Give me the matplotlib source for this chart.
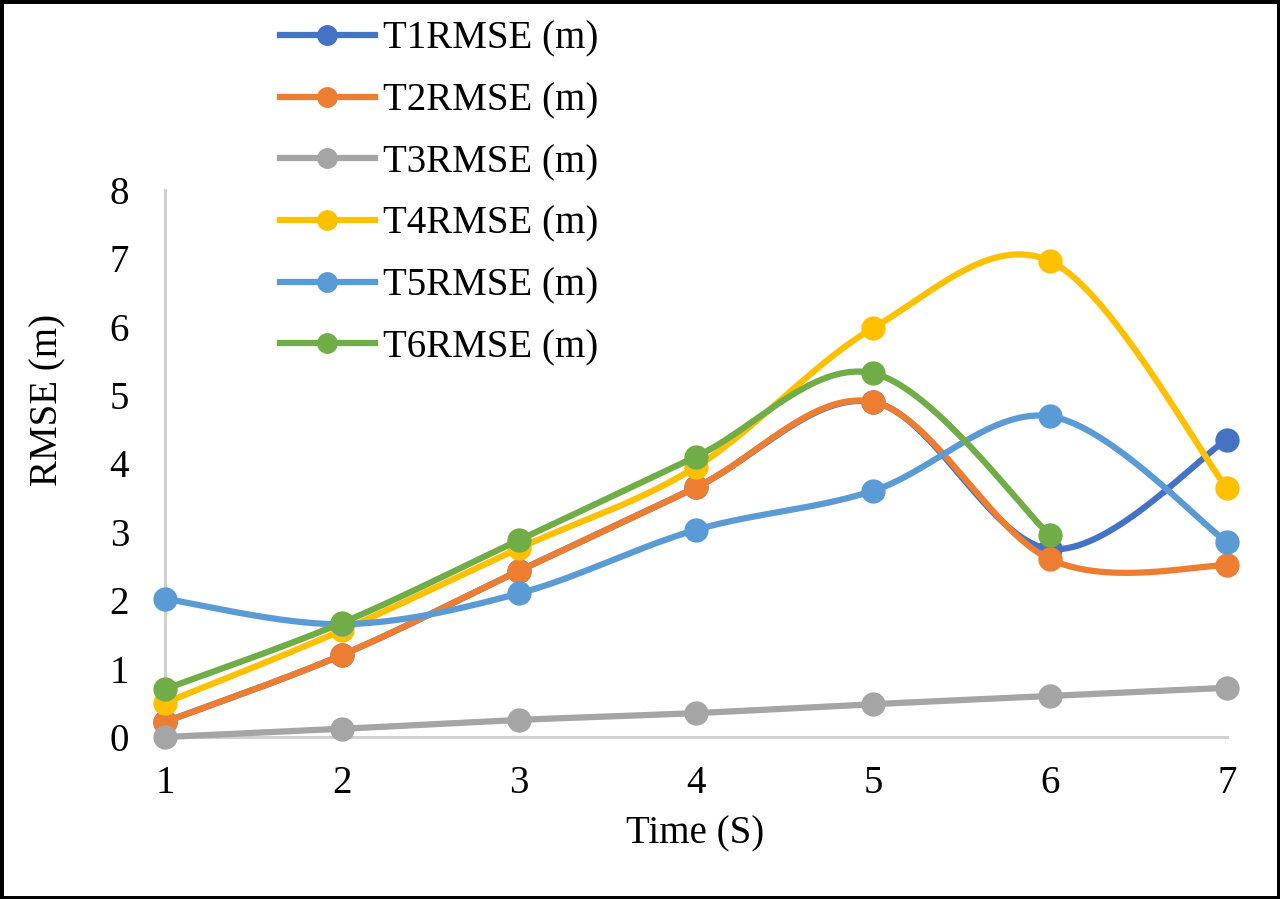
import numpy as np
import matplotlib
matplotlib.use("Agg")
import matplotlib.pyplot as plt
from matplotlib.patches import Rectangle

plt.rcParams['font.family'] = ['Liberation Serif', 'DejaVu Serif']

time = [1, 2, 3, 4, 5, 6, 7]
t1 = [0.22, 1.2, 2.43, 3.65, 4.9, 2.75, 4.35]
t2 = [0.22, 1.2, 2.43, 3.65, 4.9, 2.6, 2.51]
t3 = [0.0, 0.12, 0.25, 0.35, 0.48, 0.6, 0.72]
t4 = [0.5, 1.56, 2.76, 3.95, 5.98, 6.96, 3.64]
t5 = [2.02, 1.65, 2.1, 3.03, 3.6, 4.69, 2.85]
t6 = [0.7, 1.67, 2.88, 4.1, 5.32, 2.95]

labels = ['T1RMSE (m)', 'T2RMSE (m)', 'T3RMSE (m)', 'T4RMSE (m)', 'T5RMSE (m)', 'T6RMSE (m)']
colors = ['#4472C4', '#ED7D31', '#A5A5A5', '#FFC000', '#5B9BD5', '#70AD47']
series = [t1, t2, t3, t4, t5, t6]
yticks = [0, 1, 2, 3, 4, 5, 6, 7, 8]


def smooth(xs, ys, n=40):
    """Excel-style smoothed line (Catmull-Rom cubic Bezier)."""
    x = np.asarray(xs, float)
    y = np.asarray(ys, float)
    P = np.column_stack([x, y])
    m = len(P)
    out = []
    for i in range(m - 1):
        p0 = P[i - 1] if i > 0 else P[i]
        p1 = P[i]
        p2 = P[i + 1]
        p3 = P[i + 2] if i + 2 < m else P[i + 1]
        c1 = p1 + (p2 - p0) / 6.0
        c2 = p2 - (p3 - p1) / 6.0
        t = np.linspace(0, 1, n)[:, None]
        seg = ((1 - t) ** 3) * p1 + 3 * ((1 - t) ** 2) * t * c1 + 3 * (1 - t) * t ** 2 * c2 + t ** 3 * p2
        out.append(seg if i == 0 else seg[1:])
    s = np.vstack(out)
    return s[:, 0], s[:, 1]


fig = plt.figure(figsize=(12.8, 8.99), dpi=100)
ax = fig.add_axes([0.129, 0.1802, 0.8296, 0.6085])

handles = []
for ys, c, lab in zip(series, colors, labels):
    xs = time[:len(ys)]
    sx, sy = smooth(xs, ys)
    ax.plot(sx, sy, color=c, lw=4.5, solid_capstyle='round', clip_on=False)
    ax.plot(xs, ys, 'o', color=c, ms=16.5, mec=c, clip_on=False)
    h, = ax.plot([], [], color=c, lw=4.5, marker='o', ms=14, label=lab)
    handles.append(h)

ax.set_xlim(1, 7)
ax.set_ylim(0, 8)
ax.set_xticks(time)
ax.set_yticks(yticks)
ax.tick_params(axis='x', length=0, labelsize=28, pad=20)
ax.tick_params(axis='y', length=0, labelsize=28, pad=26)
for s in ['top', 'right']:
    ax.spines[s].set_visible(False)
for s in ['left', 'bottom']:
    ax.spines[s].set_color('#D0D0D0')
    ax.spines[s].set_linewidth(2.2)
    ax.spines[s].set_zorder(0)

fig.text(0.543, 1 - 834 / 899, 'Time (S)', ha='center', va='center', fontsize=28)
fig.text(48 / 1280, 1 - 400 / 899, 'RMSE (m)', ha='center', va='center', fontsize=28, rotation=90)

fig.legend(handles=handles, loc='upper left', bbox_to_anchor=(264 / 1280, 1 - 5 / 899),
           frameon=False, fontsize=28, handlelength=2.45, handletextpad=0.22,
           labelspacing=0.635, borderaxespad=0)

fig.patches.append(Rectangle((0, 0), 1, 1, transform=fig.transFigure, fill=False,
                             edgecolor='black', linewidth=5, zorder=10))

fig.savefig('out.png', dpi=100)
